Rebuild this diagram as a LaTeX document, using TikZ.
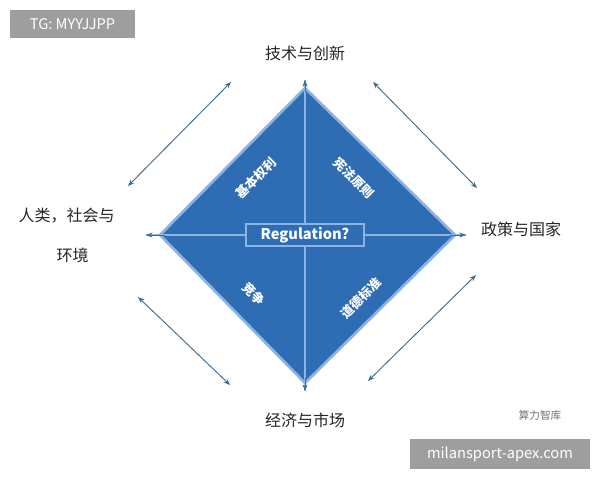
\documentclass[tikz,border=0pt]{standalone}
\usepackage{fontspec}
\setmainfont{Noto Sans CJK SC}
\usetikzlibrary{arrows.meta}
\definecolor{dblue}{HTML}{2E6DB4}
\definecolor{lblue}{HTML}{8DB3E2}
\definecolor{arr}{HTML}{3F6E94}
\tikzset{
  dbl/.style={arr,line width=0.7pt,{Stealth[length=5pt]}-{Stealth[length=5pt]}},
  cross/.style={lblue,line width=1pt},
  lab/.style={font=\fontsize{12}{14}\selectfont,text=black!85},
  inlab/.style={font=\fontsize{9.5}{11}\selectfont\bfseries,text=white,inner sep=0pt},
  gbox/.style={fill=black!38,text=white,font=\fontsize{11}{13}\selectfont,inner sep=0pt}
}
\begin{document}
\begin{tikzpicture}[x=0.75pt,y=-0.75pt]
\useasboundingbox (0,0) rectangle (600,480);
\fill[white] (0,0) rectangle (600,480);
\coordinate (T) at (305,88); \coordinate (L) at (160,235);
\coordinate (R) at (455,235); \coordinate (B) at (305,383);
\fill[dblue,draw=lblue,line width=2pt] (T)--(R)--(B)--(L)--cycle;
\coordinate (tv) at (305,80); \coordinate (bv) at (305,391);
\coordinate (lh) at (146,235); \coordinate (rh) at (466,235);
\draw[cross] (tv)--(bv);
\draw[cross] (lh)--(rh);
\draw[arr,-{Stealth[length=5pt]}] (305,92)--(tv);
\draw[arr,-{Stealth[length=5pt]}] (305,378)--(bv);
\draw[arr,-{Stealth[length=5pt]}] (165,235)--(lh);
\draw[arr,-{Stealth[length=5pt]}] (450,235)--(rh);
\node[draw=lblue,line width=1pt,fill=dblue,text=white,minimum width=118pt*0.75,minimum height=22pt*0.75,inner sep=0pt,font=\fontsize{11}{13}\selectfont\bfseries] (reg) at (305,235) {Regulation?};
\node[inlab,rotate=45] (a) at (256,178) {基本权利};
\node[inlab,rotate=-45] (b) at (354,178) {宪法原则};
\node[inlab,rotate=-45] (c) at (254,294) {竞争};
\node[inlab,rotate=45] (d) at (361,298) {道德标准};
\coordinate (a1) at (128,186); \coordinate (a2) at (231,82);
\coordinate (b1) at (373,82); \coordinate (b2) at (477,188);
\coordinate (c1) at (138,297); \coordinate (c2) at (230,385);
\coordinate (d1) at (368,381); \coordinate (d2) at (476,275);
\draw[dbl] (a1)--(a2); \draw[dbl] (b1)--(b2);
\draw[dbl] (c1)--(c2); \draw[dbl] (d1)--(d2);
\node[lab] (n1) at (305,53) {技术与创新};
\node[lab] (n2) at (521,229) {政策与国家};
\node[lab,anchor=west] (n3) at (14,216) {人类，社会与};
\node[lab,anchor=west] (n3b) at (52,255) {环境};
\node[lab] (n4) at (305,420) {经济与市场};
\node[font=\fontsize{8}{10}\selectfont,text=black!55] (wm) at (540,415) {算力智库};
\node[gbox,minimum width=125pt*0.75,minimum height=28pt*0.75] (tg) at (72.5,24) {TG: MYYJJPP};
\node[gbox,minimum width=180pt*0.75,minimum height=30pt*0.75] (ms) at (500,454) {milansport-apex.com};
\end{tikzpicture}
\end{document}
